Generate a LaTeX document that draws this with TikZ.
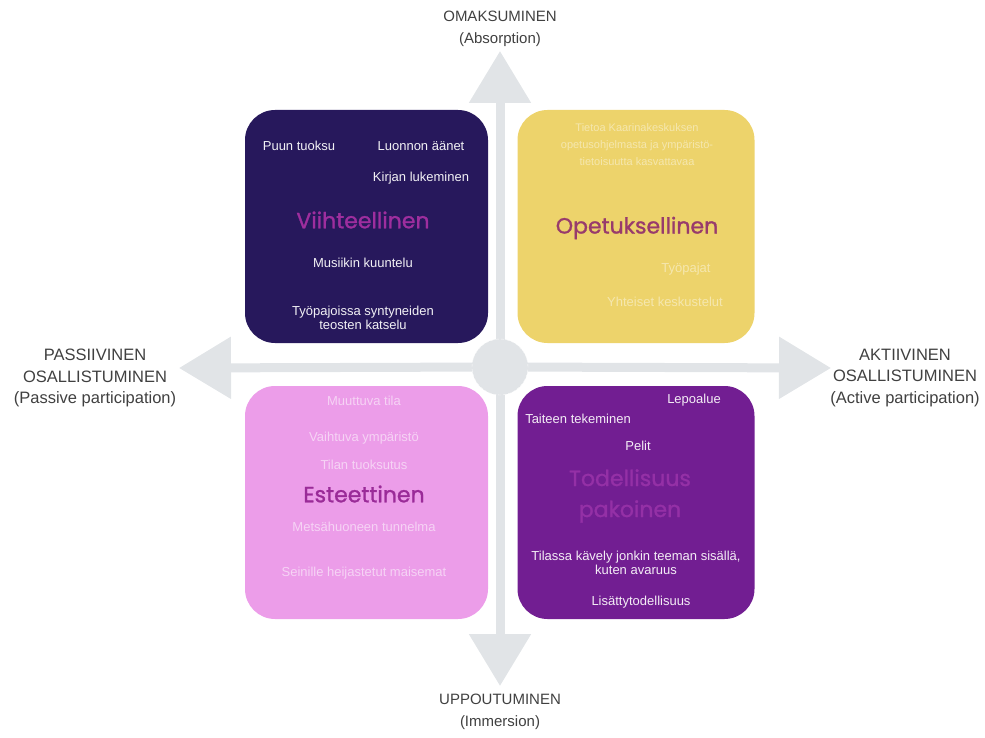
\documentclass[tikz,border=0pt]{standalone}
\usepackage{fontspec}
\setmainfont{Liberation Sans}
\newfontfamily\titlefont{Poppins}[FakeBold=1.2]
\usetikzlibrary{arrows.meta}
\definecolor{axisgray}{HTML}{E1E4E7}
\definecolor{labelgray}{HTML}{404040}
\definecolor{navy}{HTML}{27185C}
\definecolor{sand}{HTML}{EDD36B}
\definecolor{orchid}{HTML}{EC9DE9}
\definecolor{plum}{HTML}{721E92}
\definecolor{viihdetext}{HTML}{9E2E9E}
\definecolor{opetustext}{HTML}{983B6C}
\definecolor{estettext}{HTML}{9A2B98}
\definecolor{pakotext}{HTML}{9430A6}

\tikzset{
  quad/.style={rounded corners=30pt,minimum height=233pt,inner sep=0pt},
  axis/.style={axisgray,line width=9pt,-{Triangle[width=60pt,length=52pt]}},
  axislabel/.style={text=labelgray,font=\fontsize{15}{22}\selectfont,align=center},
  item/.style={font=\fontsize{13}{14}\selectfont,align=center},
  heading/.style={font=\titlefont\fontsize{22}{31}\selectfont,align=center}
}

\begin{document}
\begin{tikzpicture}[x=1pt,y=-1pt]
 \useasboundingbox (0,0) rectangle (985,738);
 % quadrant boxes
 \node[quad,minimum width=243pt,fill=navy] (viihde) at (366.5,226.5) {};
 \node[quad,minimum width=237pt,fill=sand] (opetus) at (636,226.5) {};
 \node[quad,minimum width=243pt,fill=orchid] (estet) at (366.5,502.5) {};
 \node[quad,minimum width=237pt,fill=plum] (pako) at (636,502.5) {};

 % axes
 \coordinate (hubc) at (500,367);
 \coordinate (up) at (500,51);
 \coordinate (down) at (500,686);
 \coordinate (left) at (179,368);
 \coordinate (right) at (831,368);
 \foreach \tip in {up,down,left,right}
  \draw[axis] (hubc) -- (\tip);
 \node[circle,fill=axisgray,draw=white!80!axisgray,densely dashed,minimum size=56pt] (hub) at (hubc) {};

 \node[axislabel] (absorp) at (500,29) {OMAKSUMINEN\\(Absorption)};
 \node[axislabel] (immers) at (500,712) {UPPOUTUMINEN\\(Immersion)};
 \node[axislabel,font=\fontsize{16.5}{21.5}\selectfont] (passive) at (95,378) {PASSIIVINEN\\OSALLISTUMINEN\\(Passive participation)};
 \node[axislabel,font=\fontsize{16.5}{21.5}\selectfont] (active) at (905,378) {AKTIIVINEN\\OSALLISTUMINEN\\(Active participation)};

 % Viihteellinen
 \begin{scope}[every node/.append style={text=white!94!navy}]
  \node[item] (tuoksu) at (299,146) {Puun tuoksu};
  \node[item] (aanet) at (421,146) {Luonnon äänet};
  \node[item] (kirja) at (421,178) {Kirjan lukeminen};
  \node[item] (musiikki) at (363,263) {Musiikin kuuntelu};
  \node[item] (teokset) at (363,318) {Työpajoissa syntyneiden\\teosten katselu};
 \end{scope}
 \node[heading,text=viihdetext] (viihdetitle) at (363,220) {Viihteellinen};

 % Opetuksellinen
 \begin{scope}[every node/.append style={text=white!45!sand}]
  \node[item,font=\fontsize{11}{17}\selectfont] (tietoa) at (637,145) {Tietoa Kaarinakeskuksen\\opetusohjelmasta ja ympäristö-\\tietoisuutta kasvattavaa};
  \node[item] (pajat) at (686,269) {Työpajat};
  \node[item] (keskustelut) at (665,302) {Yhteiset keskustelut};
 \end{scope}
 \node[heading,text=opetustext] (opetustitle) at (637,228) {Opetuksellinen};

 % Esteettinen
 \begin{scope}[every node/.append style={text=white!55!orchid}]
  \node[item] (tila) at (364,401) {Muuttuva tila};
  \node[item] (ymparisto) at (364,438) {Vaihtuva ympäristö};
  \node[item] (tuoksutus) at (364,465) {Tilan tuoksutus};
  \node[item] (tunnelma) at (364,527) {Metsähuoneen tunnelma};
  \node[item] (maisemat) at (364,573) {Seinille heijastetut maisemat};
 \end{scope}
 \node[heading,text=estettext] (estettitle) at (364,494) {Esteettinen};

 % Todellisuuspakoinen
 \begin{scope}[every node/.append style={text=white!92!plum}]
  \node[item] (lepo) at (694,400) {Lepoalue};
  \node[item] (taide) at (578,419) {Taiteen tekeminen};
  \node[item] (pelit) at (638,446) {Pelit};
  \node[item] (kavely) at (636,563) {Tilassa kävely jonkin teeman sisällä,\\kuten avaruus};
  \node[item] (lisatty) at (641,602) {Lisättytodellisuus};
 \end{scope}
 \node[heading,text=pakotext] (pakotitle) at (630,496) {Todellisuus\\pakoinen};
\end{tikzpicture}
\end{document}
